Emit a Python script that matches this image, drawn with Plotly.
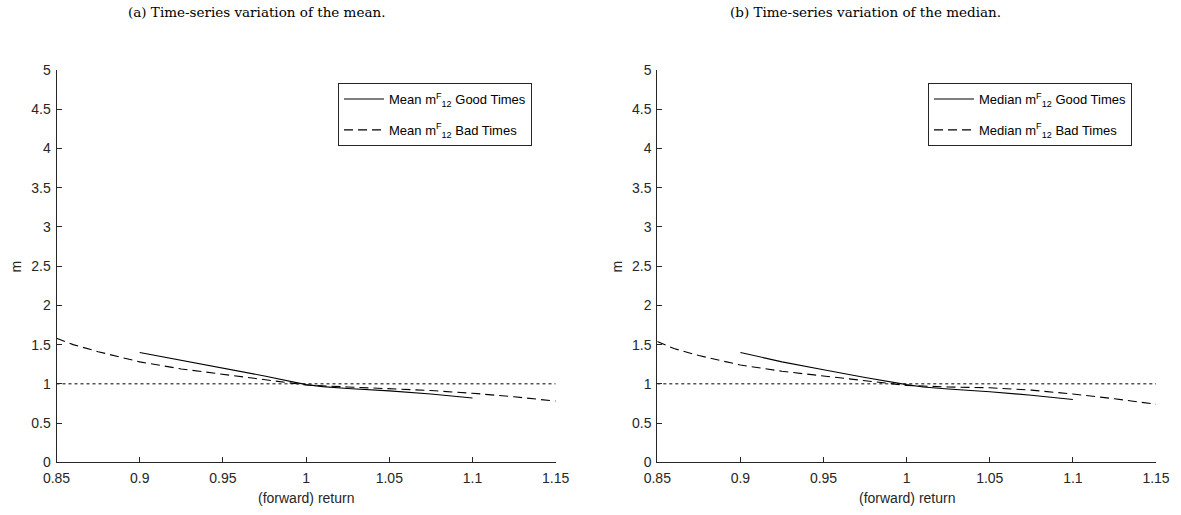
import plotly.graph_objects as go

# Data
good_x = [0.90, 0.925, 0.95, 0.975, 1.00, 1.01, 1.025, 1.05, 1.075, 1.10]
mean_good = [1.40, 1.30, 1.20, 1.10, 0.99, 0.965, 0.94, 0.91, 0.87, 0.82]
median_good = [1.40, 1.28, 1.18, 1.08, 0.99, 0.96, 0.935, 0.90, 0.855, 0.80]

bad_x = [0.85, 0.86, 0.875, 0.90, 0.925, 0.95, 0.975, 1.00, 1.025, 1.05, 1.075, 1.10, 1.125, 1.15]
mean_bad = [1.58, 1.50, 1.41, 1.28, 1.19, 1.12, 1.05, 0.985, 0.96, 0.94, 0.915, 0.88, 0.835, 0.78]
median_bad = [1.54, 1.45, 1.36, 1.24, 1.16, 1.10, 1.04, 0.98, 0.96, 0.95, 0.92, 0.87, 0.81, 0.74]

ref_x = [0.85, 1.15]
ref_y = [1.0, 1.0]

x_ticks = [0.85, 0.9, 0.95, 1.0, 1.05, 1.1, 1.15]
x_ticktext = ["0.85", "0.9", "0.95", "1", "1.05", "1.1", "1.15"]
y_ticks = [0, 0.5, 1, 1.5, 2, 2.5, 3, 3.5, 4, 4.5, 5]
y_ticktext = ["0", "0.5", "1", "1.5", "2", "2.5", "3", "3.5", "4", "4.5", "5"]

titles = ["(a) Time-series variation of the mean.", "(b) Time-series variation of the median."]

W, H = 1181, 515
LC = "#000000"
AX = "#262626"
fig = go.Figure()

def add_panel(i, gx, gy, bx, by, label):
    xa = "x" if i == 0 else "x2"
    ya = "y" if i == 0 else "y2"
    lg = "legend" if i == 0 else "legend2"
    fig.add_trace(go.Scatter(x=ref_x, y=ref_y, mode="lines", xaxis=xa, yaxis=ya,
                             line=dict(color=LC, width=1, dash="dot"), showlegend=False))
    fig.add_trace(go.Scatter(x=gx, y=gy, mode="lines", xaxis=xa, yaxis=ya, legend=lg,
                             legendgroup=f"g{i}a",
                             name=f"{label} m<sup>F</sup><sub>12</sub> Good Times",
                             line=dict(color=LC, width=1.1)))
    fig.add_trace(go.Scatter(x=bx, y=by, mode="lines", xaxis=xa, yaxis=ya, legend=lg,
                             legendgroup=f"g{i}b",
                             name=f"{label} m<sup>F</sup><sub>12</sub> Bad Times",
                             line=dict(color=LC, width=1.1, dash="9px,5px")))

add_panel(0, good_x, mean_good, bad_x, mean_bad, "Mean")
add_panel(1, good_x, median_good, bad_x, median_bad, "Median")

xdoms = [[56.5 / W, 555.7 / W], [657.3 / W, 1156 / W]]
ydom = [1 - 462.3 / H, 1 - 70 / H]

axis_font = dict(family="Liberation Sans, Arial, sans-serif", size=14, color=AX)

for i, key in enumerate(["xaxis", "xaxis2"]):
    fig.layout[key] = dict(domain=xdoms[i], range=[0.85, 1.15], tickvals=x_ticks, ticktext=x_ticktext,
                           showline=True, linecolor=AX, linewidth=1, mirror=False, automargin=False,
                           ticks="inside", ticklen=5, tickcolor=AX, showgrid=False, zeroline=False,
                           ticklabelstandoff=3,
                           tickfont=axis_font, anchor="y" if i == 0 else "y2")
for i, key in enumerate(["yaxis", "yaxis2"]):
    fig.layout[key] = dict(domain=ydom, range=[0, 5], tickvals=y_ticks, ticktext=y_ticktext,
                           showline=True, linecolor=AX, linewidth=1, mirror=False, automargin=False,
                           ticks="inside", ticklen=5, tickcolor=AX, showgrid=False, zeroline=False,
                           ticklabelstandoff=2,
                           tickfont=axis_font, anchor="x" if i == 0 else "x2")

legend_common = dict(bgcolor="white", bordercolor=AX, borderwidth=1,
                     font=dict(family="Liberation Sans, Arial, sans-serif", size=13, color="#000"),
                     xanchor="left", yanchor="top", tracegroupgap=11, itemwidth=40)
fig.update_layout(
    legend=dict(x=338 / W, y=1 - 83 / H, **legend_common),
    legend2=dict(x=928 / W, y=1 - 83 / H, **legend_common),
)

annotations = []
axis_centers = [(56.5 + 555.7) / 2, (657.3 + 1156) / 2]
title_centers = [256, 865]
ylab_x = [15, 616]
for i in range(2):
    annotations.append(dict(text=titles[i], x=title_centers[i] / W, y=1 - 12 / H, xref="paper", yref="paper",
                            showarrow=False, xanchor="center", yanchor="middle",
                            font=dict(family="DejaVu Serif, Liberation Serif, serif", size=13.5, color="#000")))
    annotations.append(dict(text="(forward) return", x=axis_centers[i] / W, y=1 - 498 / H, xref="paper", yref="paper",
                            showarrow=False, xanchor="center", yanchor="middle", font=axis_font))
    annotations.append(dict(text="m", x=ylab_x[i] / W, y=1 - 266.5 / H, xref="paper", yref="paper",
                            showarrow=False, xanchor="center", yanchor="middle", textangle=-90, font=axis_font))

fig.update_layout(width=W, height=H, margin=dict(l=0, r=0, t=0, b=0),
                  paper_bgcolor="white", plot_bgcolor="white", annotations=annotations)

fig.write_html("out.html")
